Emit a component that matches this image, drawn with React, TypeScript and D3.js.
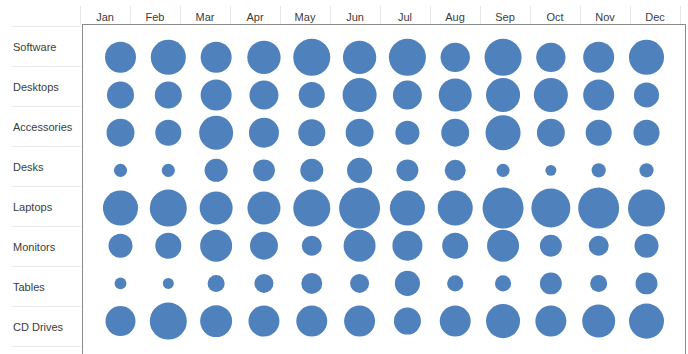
import React from "react";
import * as d3 from "d3";

const months = ["Jan", "Feb", "Mar", "Apr", "May", "Jun", "Jul", "Aug", "Sep", "Oct", "Nov", "Dec"];
const categories = ["Software", "Desktops", "Accessories", "Desks", "Laptops", "Monitors", "Tables", "CD Drives"];

const software = [96, 123, 96, 111, 137, 111, 137, 86, 137, 86, 96, 123];
const desktops = [73, 73, 96, 84, 68, 116, 84, 109, 116, 116, 96, 63];
const accessories = [78, 68, 116, 90, 73, 78, 58, 78, 123, 78, 68, 68];
const desks = [17, 17, 53, 48, 53, 63, 48, 44, 17, 12, 20, 20];
const laptops = [123, 137, 109, 109, 137, 168, 123, 123, 168, 152, 168, 137];
const monitors = [58, 68, 102, 78, 40, 102, 90, 68, 102, 48, 40, 58];
const tables = [14, 12, 29, 36, 44, 36, 63, 26, 26, 48, 29, 48];
const cdDrives = [90, 137, 102, 96, 96, 96, 73, 96, 116, 96, 109, 123];

const seriesValues = [software, desktops, accessories, desks, laptops, monitors, tables, cdDrives];

const W = 688;
const H = 354;

export default function App() {
  const xCircle = d3.scalePoint<string>().domain(months).range([120.5, 646.5]);
  const yCircle = d3.scalePoint<string>().domain(categories).range([57.3, 321.1]);
  const xHeader = d3.scaleBand<string>().domain(months).range([80, 680]);
  const yRow = d3.scaleBand<string>().domain(categories).range([26, 346]);
  const r = d3.scaleSqrt().domain([0, 168]).range([0, 20.5]);

  const font = "'Liberation Sans', Arial, sans-serif";

  return (
    <svg
      width={W}
      height={H}
      style={{ position: "absolute", left: 0, top: 0, display: "block" }}
      fontFamily={font}
    >
      <rect x={0} y={0} width={W} height={H} fill="#ffffff" />
      {/* header column separators */}
      {d3.range(months.length + 1).map((i) => {
        const x = 80 + i * xHeader.step();
        return <line key={"hs" + i} x1={x + 0.5} x2={x + 0.5} y1={6} y2={25} stroke="#e6e6e6" strokeWidth={1} />;
      })}
      {months.map((m) => (
        <text
          key={"h" + m}
          x={(xHeader(m) as number) + xHeader.bandwidth() / 2}
          y={16.5}
          textAnchor="middle"
          dominantBaseline="central"
          fontSize={11}
          fill="#3c3c3c"
        >
          {m}
        </text>
      ))}
      {/* row separators */}
      {d3.range(categories.length + 1).map((i) => {
        const y = 26 + i * yRow.step();
        return <line key={"rs" + i} x1={11} x2={81} y1={y + 0.5} y2={y + 0.5} stroke="#ebebeb" strokeWidth={1} />;
      })}
      {categories.map((c) => (
        <text
          key={"r" + c}
          x={13}
          y={(yRow(c) as number) + yRow.bandwidth() / 2 + 1}
          dominantBaseline="central"
          fontSize={11}
          fill="#3c3c3c"
        >
          {c}
        </text>
      ))}
      {/* plot frame */}
      <rect x={82.5} y={24.5} width={603} height={340} fill="none" stroke="#8a8a8a" strokeWidth={1} />
      {/* bubbles */}
      {categories.map((c, ci) =>
        months.map((m, mi) => (
          <circle
            key={c + m}
            cx={xCircle(m)}
            cy={yCircle(c)}
            r={r(seriesValues[ci][mi])}
            fill="#4f81bd"
          />
        ))
      )}
    </svg>
  );
}
